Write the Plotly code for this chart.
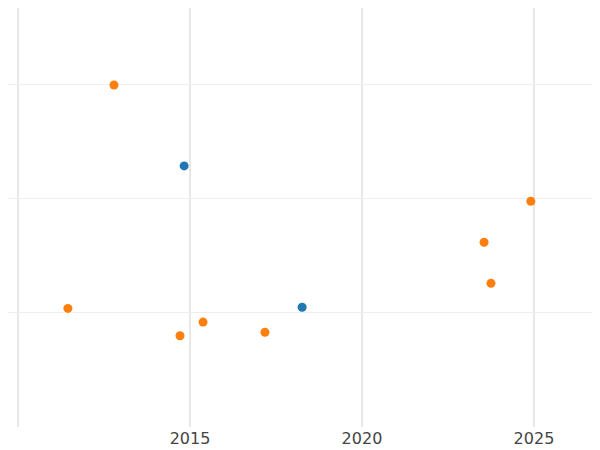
import plotly.graph_objects as go

blue_x = [2014.83, 2018.26]
blue_y = [2.29, 1.05]
orange_x = [2012.79, 2024.91, 2023.55, 2023.75, 2011.45, 2015.38, 2014.71, 2017.18]
orange_y = [3.0, 1.98, 1.62, 1.26, 1.04, 0.92, 0.80, 0.83]

fig = go.Figure()
fig.add_trace(go.Scatter(x=blue_x, y=blue_y, mode="markers", marker=dict(color="#1f77b4", size=9)))
fig.add_trace(go.Scatter(x=orange_x, y=orange_y, mode="markers", marker=dict(color="#ff7f0e", size=9)))
fig.update_layout(
    width=592, height=442, showlegend=False,
    plot_bgcolor="white", paper_bgcolor="white",
    margin=dict(l=0, r=0, t=0, b=23, pad=0),
    font=dict(family="DejaVu Sans", size=16, color="#444"),
    xaxis=dict(range=[2009.709, 2026.92], tickvals=[2010, 2015, 2020, 2025], ticktext=["", "2015", "2020", "2025"],
               showgrid=True, gridcolor="#e8e8e8", gridwidth=1.5, zeroline=False, ticks="", automargin=False),
    yaxis=dict(range=[0, 3.675], tickvals=[1, 2, 3], showticklabels=False,
               showgrid=True, gridcolor="#eeeeee", zeroline=False, automargin=False),
)
fig.write_html("out.html")
